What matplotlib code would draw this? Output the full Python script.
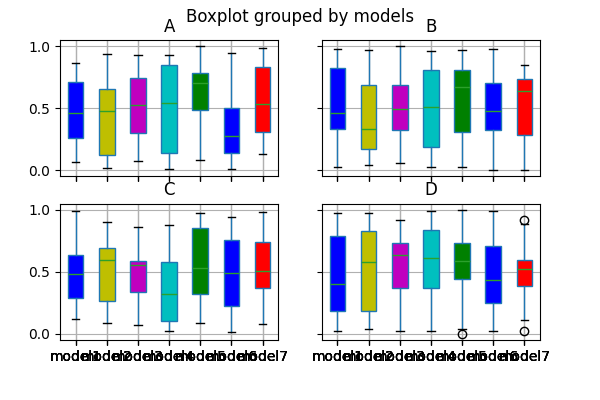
import matplotlib
matplotlib.use("Agg")
import matplotlib.pyplot as plt

models = ["model1", "model2", "model3", "model4", "model5", "model6", "model7"]
panels = ["A", "B", "C", "D"]
box_colors = ["b", "y", "m", "c", "g", "b", "r"]

# per panel: lists over models of [whislo, q1, med, q3, whishi]
A_lo = [0.062, 0.016, 0.073, 0.008, 0.086, 0.008, 0.129]
A_q1 = [0.263, 0.126, 0.296, 0.142, 0.489, 0.142, 0.306]
A_med = [0.465, 0.476, 0.524, 0.543, 0.702, 0.272, 0.530]
A_q3 = [0.715, 0.651, 0.747, 0.847, 0.782, 0.505, 0.836]
A_hi = [0.868, 0.941, 0.933, 0.933, 1.000, 0.949, 0.989]

B_lo = [0.027, 0.040, 0.056, 0.027, 0.027, 0.000, 0.000]
B_q1 = [0.332, 0.172, 0.324, 0.185, 0.306, 0.324, 0.282]
B_med = [0.461, 0.332, 0.493, 0.507, 0.668, 0.480, 0.638]
B_q3 = [0.828, 0.684, 0.684, 0.804, 0.812, 0.700, 0.732]
B_hi = [0.981, 0.973, 1.000, 0.965, 0.973, 0.981, 0.847]

C_lo = [0.121, 0.091, 0.072, 0.024, 0.091, 0.011, 0.080]
C_q1 = [0.287, 0.263, 0.335, 0.105, 0.322, 0.225, 0.367]
C_med = [0.480, 0.595, 0.555, 0.319, 0.531, 0.491, 0.507]
C_q3 = [0.635, 0.694, 0.587, 0.579, 0.853, 0.756, 0.737]
C_hi = [0.992, 0.901, 0.861, 0.879, 0.973, 0.941, 0.981]

D_lo = [0.024, 0.040, 0.019, 0.019, 0.040, 0.024, 0.113]
D_q1 = [0.185, 0.185, 0.371, 0.371, 0.444, 0.245, 0.387]
D_med = [0.403, 0.581, 0.637, 0.610, 0.589, 0.435, 0.524]
D_q3 = [0.790, 0.831, 0.734, 0.839, 0.734, 0.710, 0.597]
D_hi = [0.976, 0.976, 0.919, 0.992, 1.000, 0.992, 0.887]
D_fliers = [[], [], [], [], [0.0], [], [0.919, 0.024]]

data = {
    "A": (A_lo, A_q1, A_med, A_q3, A_hi, [[]] * 7),
    "B": (B_lo, B_q1, B_med, B_q3, B_hi, [[]] * 7),
    "C": (C_lo, C_q1, C_med, C_q3, C_hi, [[]] * 7),
    "D": (D_lo, D_q1, D_med, D_q3, D_hi, D_fliers),
}

fig, axes = plt.subplots(2, 2, figsize=(6, 4), dpi=100, sharex=True, sharey=True)
fig.subplots_adjust(bottom=0.15, top=0.9, left=0.1, right=0.9, wspace=0.2, hspace=0.2)

for ax, name in zip(axes.flat, panels):
    lo, q1, med, q3, hi, fl = data[name]
    stats = []
    for i, m in enumerate(models):
        stats.append(dict(label=m, whislo=lo[i], q1=q1[i], med=med[i],
                          q3=q3[i], whishi=hi[i], fliers=fl[i]))
    bp = ax.bxp(stats, patch_artist=True, widths=0.5,
                boxprops=dict(edgecolor="C0"),
                whiskerprops=dict(color="C0"),
                capprops=dict(color="k"),
                medianprops=dict(color="C2"),
                flierprops=dict(marker="o", markerfacecolor="none",
                                markeredgecolor="k", markersize=6))
    for patch, c in zip(bp["boxes"], box_colors):
        patch.set_facecolor(c)
    ax.set_title(name)
    ax.grid(True)
    ax.set_ylim(-0.05, 1.05)

fig.suptitle("Boxplot grouped by models")
fig.savefig("out.png", dpi=100)
